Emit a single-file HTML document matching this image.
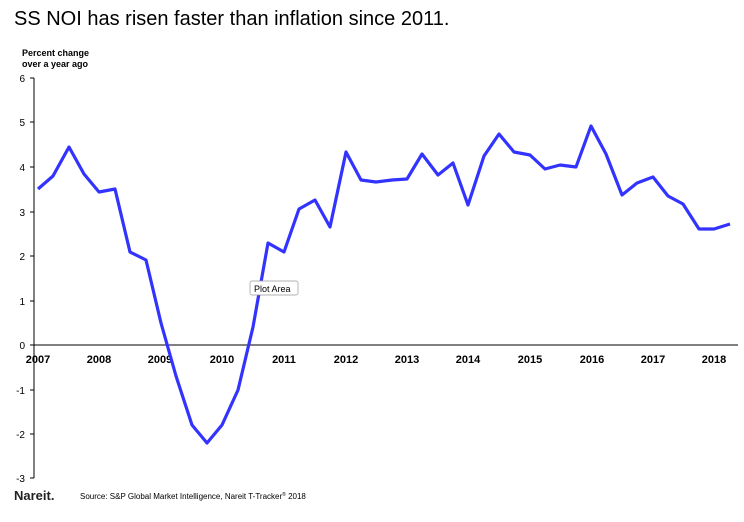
<!DOCTYPE html>
<html><head><meta charset="utf-8"><style>
body{margin:0;width:744px;height:517px;background:#fff;overflow:hidden;font-family:"Liberation Sans",Arial,sans-serif;}
</style></head><body>
<svg width="744" height="517" viewBox="0 0 744 517" xmlns="http://www.w3.org/2000/svg" font-family="Liberation Sans, Arial, sans-serif">
<text x="14" y="25" font-size="20" fill="#000">SS NOI has risen faster than inflation since 2011.</text>
<text x="22" y="56" font-size="9" font-weight="bold">Percent change</text>
<text x="22" y="67" font-size="9" font-weight="bold">over a year ago</text>
<line x1="34" y1="78" x2="34" y2="478" stroke="#000" stroke-width="1"/>
<g stroke="#000" stroke-width="1">
<line x1="30" y1="78" x2="34" y2="78"/><line x1="30" y1="122" x2="34" y2="122"/><line x1="30" y1="167" x2="34" y2="167"/><line x1="30" y1="212" x2="34" y2="212"/><line x1="30" y1="256" x2="34" y2="256"/><line x1="30" y1="301" x2="34" y2="301"/><line x1="30" y1="345" x2="34" y2="345"/><line x1="30" y1="390" x2="34" y2="390"/><line x1="30" y1="434" x2="34" y2="434"/><line x1="30" y1="478" x2="34" y2="478"/>
<line x1="34" y1="345" x2="738" y2="345"/>
</g>
<g font-size="10" text-anchor="end">
<text x="25" y="82">6</text><text x="25" y="126">5</text><text x="25" y="171">4</text><text x="25" y="216">3</text><text x="25" y="260">2</text><text x="25" y="305">1</text><text x="25" y="349">0</text><text x="25" y="394">-1</text><text x="25" y="438">-2</text><text x="25" y="482">-3</text>
</g>
<g font-size="11" font-weight="bold" text-anchor="middle">
<text x="38" y="363">2007</text><text x="99" y="363">2008</text><text x="160" y="363">2009</text><text x="222" y="363">2010</text><text x="284" y="363">2011</text><text x="346" y="363">2012</text><text x="407" y="363">2013</text><text x="468" y="363">2014</text><text x="530" y="363">2015</text><text x="592" y="363">2016</text><text x="653" y="363">2017</text><text x="714" y="363">2018</text>
</g>
<polyline fill="none" stroke="#3333ff" stroke-width="3.2" stroke-linejoin="round" points="38,189 53,176 69,147 84,174 99,192 115,189 130,252 146,260 161,323 176,376 192,425 207,443 222,425 238,390 253,327 268,243 284,252 299,209 315,200 330,227 346,152 361,180 376,182 392,180 407,179 422,154 438,175 453,163 468,205 484,156 499,134 514,152 530,155 545,169 560,165 576,167 591,126 606,154 622,195 637,183 653,177 668,196 683,204 699,229 714,229 730,224"/>
<rect x="250" y="281" width="48" height="14" rx="2" fill="#fff" stroke="#999" stroke-width="0.7"/>
<text x="254" y="292" font-size="9">Plot Area</text>
<text x="14" y="500" font-size="13" font-weight="bold" fill="#222">Nareit.</text>
<text x="80" y="499" font-size="8">Source: S&amp;P Global Market Intelligence, Nareit T-Tracker<tspan font-size="5" dy="-3">®</tspan><tspan dy="3"> 2018</tspan></text>
</svg>
</body></html>
